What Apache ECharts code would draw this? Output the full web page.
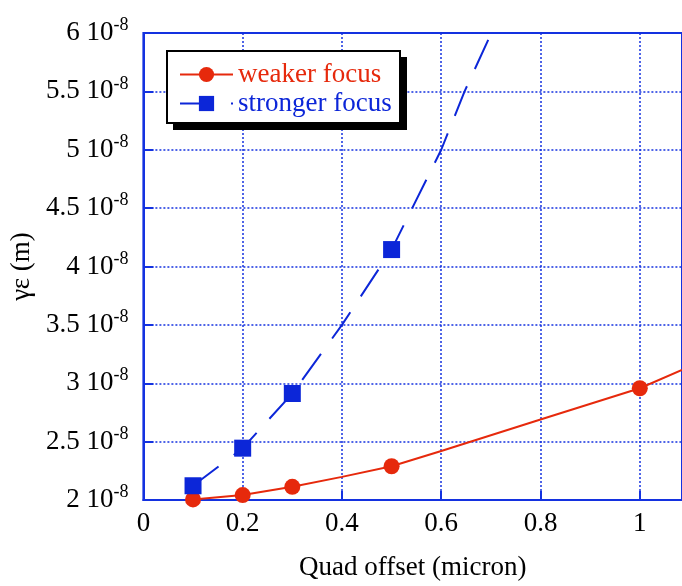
<!DOCTYPE html>
<html>
<head>
<meta charset="utf-8">
<script src="https://cdn.jsdelivr.net/npm/echarts@6/dist/echarts.min.js"></script>
<style>
  html, body { margin: 0; padding: 0; background: #fff; }
  #chart { width: 682px; height: 586px; }
</style>
</head>
<body>
<div id="chart"></div>
<script>
  // values are in units of 1e-8 m
  const xTicks = [0, 0.2, 0.4, 0.6, 0.8, 1]
  const yTicks = [2, 2.5, 3, 3.5, 4, 4.5, 5, 5.5, 6]

  const weakerX = [0.1, 0.2, 0.3, 0.5, 1.0]
  const weakerY = [2.005, 2.042, 2.113, 2.289, 2.957]
  const weakerFitX = [0.4, 0.6, 0.8, 1.085]
  const weakerFitY = [2.198, 2.42, 2.689, 3.114]

  // stronger focus
  const strongerX = [0.1, 0.2, 0.3, 0.5]
  const strongerY = [2.122, 2.444, 2.912, 4.145]
  const strongerFitX = [0.4, 0.6, 0.647, 0.701]
  const strongerFitY = [3.5, 5.0, 5.5, 6.0]

  const RED = '#e6290c'
  const BLUE = '#0c26d8'
  const AXIS_BLUE = '#1432e0'
  const FONT = '"Liberation Serif", "Times New Roman", serif'

  function buildData (xs, ys, fxs, fys) {
    const pts = []
    xs.forEach((x, i) => pts.push({ value: [x, ys[i]] }))
    fxs.forEach((x, i) => pts.push({ value: [x, fys[i]], symbol: 'none' }))
    pts.sort((a, b) => a.value[0] - b.value[0])
    return pts
  }

  const chart = echarts.init(document.getElementById('chart'))
  const option = {
    animation: false,
    grid: {
      left: 143,
      right: 0,
      top: 33,
      bottom: 83,
      show: true,
      borderColor: AXIS_BLUE,
      borderWidth: 2
    },
    // legend frame with its hard black drop shadow
    graphic: [
      { type: 'rect', z: 10, shape: { x: 173, y: 57, width: 234, height: 73 }, style: { fill: '#000' } },
      { type: 'rect', z: 11, shape: { x: 167, y: 51, width: 233, height: 72 }, style: { fill: '#fff', stroke: '#000', lineWidth: 2 } }
    ],
    legend: {
      z: 20,
      orient: 'vertical',
      left: 179,
      top: 61,
      padding: 0,
      itemWidth: 53,
      itemHeight: 19,
      itemGap: 2,
      textStyle: { fontFamily: FONT, fontSize: 27, lineHeight: 27 },
      data: [
        { name: 'weaker focus', textStyle: { color: RED } },
        { name: 'stronger focus', textStyle: { color: BLUE } }
      ]
    },
    xAxis: {
      type: 'value',
      min: 0,
      max: 1.085,
      interval: 0.2,
      name: 'Quad offset (micron)',
      nameLocation: 'middle',
      nameGap: 54,
      nameTextStyle: { fontFamily: FONT, fontSize: 27, color: '#000' },
      axisLine: { show: true, onZero: false, lineStyle: { color: AXIS_BLUE, width: 2 } },
      axisTick: { show: true, inside: true, length: 9, lineStyle: { color: AXIS_BLUE, width: 2 } },
      axisLabel: {
        showMaxLabel: false,
        margin: 10,
        fontFamily: FONT,
        fontSize: 27,
        color: '#000',
        formatter: v => (xTicks.includes(+v.toFixed(2)) ? String(+v.toFixed(2)) : '')
      },
      splitLine: { show: true, lineStyle: { color: AXIS_BLUE, width: 1.5, type: [2, 2] } }
    },
    yAxis: {
      type: 'value',
      min: 2,
      max: 6,
      interval: 0.5,
      name: 'γε (m)',
      nameLocation: 'middle',
      nameGap: 104,
      nameTextStyle: { fontFamily: FONT, fontSize: 27, color: '#000' },
      axisLine: { show: true, onZero: false, lineStyle: { color: AXIS_BLUE, width: 2 } },
      axisTick: { show: true, inside: true, length: 10, lineStyle: { color: AXIS_BLUE, width: 2 } },
      axisLabel: {
        margin: 15,
        formatter: v => {
          const t = +v.toFixed(2)
          return yTicks.includes(t) ? `{a|${t} 10}{s|-8}` : ''
        },
        rich: {
          a: { fontFamily: FONT, fontSize: 27, color: '#000' },
          s: { fontFamily: FONT, fontSize: 18, color: '#000', padding: [0, 0, 15, 0] }
        }
      },
      splitLine: { show: true, lineStyle: { color: AXIS_BLUE, width: 1.5, type: [2, 2] } }
    },
    series: [
      {
        name: 'weaker focus',
        type: 'line',
        symbol: 'circle',
        symbolSize: 16,
        color: RED,
        itemStyle: { color: RED },
        lineStyle: { color: RED, width: 2 },
        data: buildData(weakerX, weakerY, weakerFitX, weakerFitY)
      },
      {
        name: 'stronger focus',
        type: 'line',
        symbol: 'rect',
        symbolSize: 17,
        color: BLUE,
        itemStyle: { color: BLUE },
        lineStyle: { color: BLUE, width: 2, type: [32, 19] },
        data: buildData(strongerX, strongerY, strongerFitX, strongerFitY)
      }
    ]
  }
  chart.setOption(option)
  window.addEventListener('resize', function () {
    chart.resize()
  })
</script>
</body>
</html>
